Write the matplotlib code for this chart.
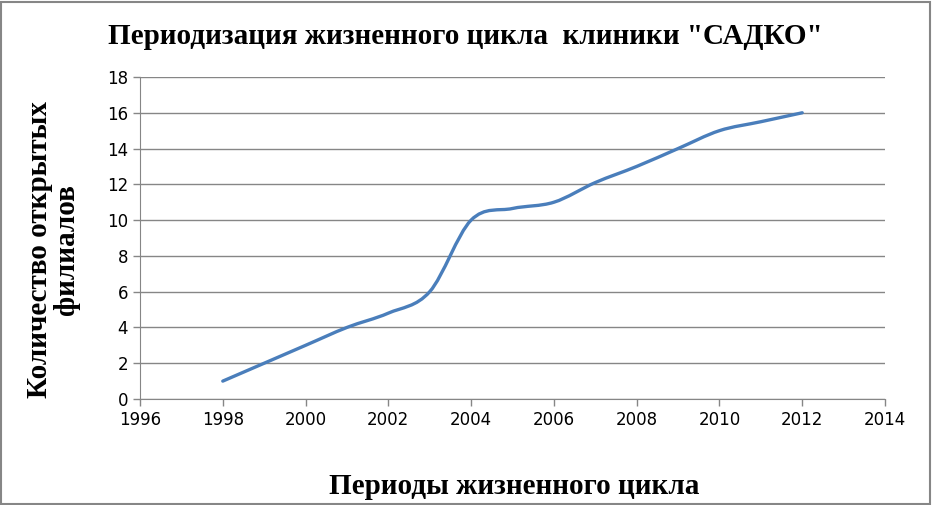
import numpy as np
import matplotlib
matplotlib.use('Agg')
import matplotlib.pyplot as plt
from matplotlib.path import Path
from matplotlib.patches import PathPatch, Rectangle

years = [1998, 1999, 2000, 2001, 2002, 2003, 2004, 2005, 2006, 2007, 2008, 2009, 2010, 2011, 2012]
branches = [1, 2, 3, 4, 4.8, 6, 10, 10.65, 11, 12.1, 13, 14, 15, 15.5, 16]

x_ticks = list(range(1996, 2015, 2))
y_ticks = list(range(0, 19, 2))


def smooth_path(xs, ys):
    '''Excel-like smoothed line: cubic Bezier segments with Catmull-Rom tangents'''
    xs = np.asarray(xs, float)
    ys = np.asarray(ys, float)
    n = len(xs)
    verts = [(xs[0], ys[0])]
    codes = [Path.MOVETO]
    for i in range(n - 1):
        p0 = max(i - 1, 0)
        p3 = min(i + 2, n - 1)
        c1 = (xs[i] + (xs[i + 1] - xs[p0]) / 6, ys[i] + (ys[i + 1] - ys[p0]) / 6)
        c2 = (xs[i + 1] - (xs[p3] - xs[i]) / 6, ys[i + 1] - (ys[p3] - ys[i]) / 6)
        verts += [c1, c2, (xs[i + 1], ys[i + 1])]
        codes += [Path.CURVE4] * 3
    return Path(verts, codes)


fig = plt.figure(figsize=(9.32, 5.05), dpi=100)
ax = fig.add_axes([140 / 932, 1 - 399 / 505, 745 / 932, 322 / 505])

ax.add_patch(PathPatch(smooth_path(years, branches), fill=False,
                       edgecolor='#4A7EBB', linewidth=2.4, capstyle='round'))

ax.set_xlim(1996, 2014)
ax.set_ylim(0, 18)
ax.set_xticks(x_ticks)
ax.set_yticks(y_ticks)
ax.grid(axis='y', color='#868686', linewidth=1)
ax.set_axisbelow(True)
for s in ['top', 'right']:
    ax.spines[s].set_visible(False)
for s in ['left', 'bottom']:
    ax.spines[s].set_color('#868686')
ax.tick_params(colors='#868686', length=5, width=1, labelcolor='black', labelsize=12)
for lab in ax.get_xticklabels() + ax.get_yticklabels():
    lab.set_family(['Liberation Sans Narrow', 'DejaVu Sans'])

serif = ['Liberation Serif', 'DejaVu Serif']
fig.text(465 / 932, 1 - 37 / 505, 'Периодизация жизненного цикла  клиники "САДКО"',
         ha='center', va='center', fontsize=21, fontweight='bold', family=serif)
fig.text(514 / 932, 1 - 487 / 505, 'Периоды жизненного цикла',
         ha='center', va='center', fontsize=21, fontweight='bold', family=serif)
fig.text(53 / 932, 1 - 250 / 505, 'Количество открытых\nфилиалов', rotation=90,
         ha='center', va='center', fontsize=21, fontweight='bold', family=serif,
         linespacing=1.0)

fig.patches.append(Rectangle((0.001, 0.002), 0.997, 0.995, transform=fig.transFigure,
                             fill=False, edgecolor='#868686', linewidth=1.5))

plt.savefig('out.png', dpi=100)
